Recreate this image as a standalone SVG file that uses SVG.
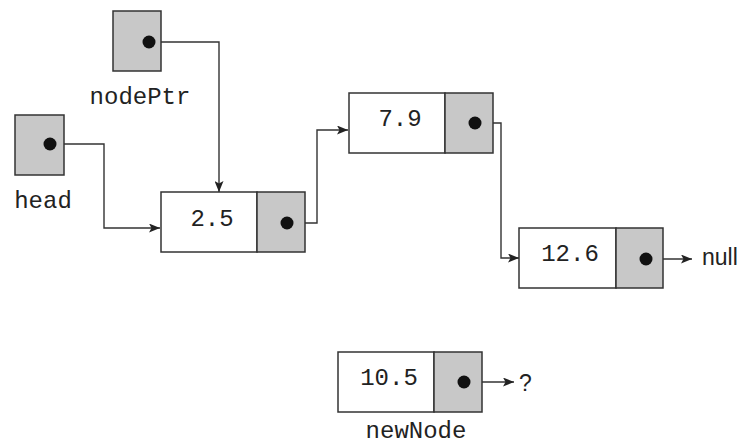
<svg xmlns="http://www.w3.org/2000/svg" width="743" height="445" viewBox="0 0 743 445">
<style>
.cell{fill:#ffffff;stroke:#333333;stroke-width:1.5}
.ptr{fill:#c8c8c8;stroke:#333333;stroke-width:1.5}
.dot{fill:#111111}
.mono{font-family:"Liberation Mono","Courier New",monospace;font-size:24px;fill:#222222;text-anchor:middle}
.sans{font-family:"Liberation Sans",Arial,sans-serif;font-size:23px;fill:#222222}
.conn{fill:none;stroke:#333333;stroke-width:1.4;marker-end:url(#ah)}
</style>
<defs>
<marker id="ah" viewBox="0 0 11 9" refX="11" refY="4.5" markerWidth="11" markerHeight="9" markerUnits="userSpaceOnUse" orient="auto">
<path d="M0,0 L11,4.5 L0,9 L2.5,4.5 Z" fill="#222222"/>
</marker>
</defs>
<g id="connectors">
<path class="conn" d="M149,42 H219 V192"/>
<path class="conn" d="M50,144 H104 V228 H160"/>
<path class="conn" d="M287,223 H317 V130 H348"/>
<path class="conn" d="M475,123 H501 V258 H519"/>
<path class="conn" d="M646,259 H692"/>
<path class="conn" d="M464,382 H514"/>
</g>
<g id="nodePtr">
<rect class="ptr" x="113" y="11" width="48" height="60"/>
<circle class="dot" cx="149" cy="42" r="6.5"/>
<text class="mono" x="140" y="104">nodePtr</text>
</g>
<g id="head">
<rect class="ptr" x="15" y="115" width="49" height="60"/>
<circle class="dot" cx="50" cy="144" r="6.5"/>
<text class="mono" x="43" y="208">head</text>
</g>
<g id="node25">
<rect class="cell" x="161" y="192" width="96" height="60"/>
<rect class="ptr" x="257" y="192" width="48" height="60"/>
<circle class="dot" cx="287" cy="223" r="6.5"/>
<text class="mono" x="212" y="226">2.5</text>
</g>
<g id="node79">
<rect class="cell" x="349" y="93" width="96" height="60"/>
<rect class="ptr" x="445" y="93" width="48" height="60"/>
<circle class="dot" cx="475" cy="123" r="6.5"/>
<text class="mono" x="400" y="126">7.9</text>
</g>
<g id="node126">
<rect class="cell" x="519" y="228" width="97" height="60"/>
<rect class="ptr" x="616" y="228" width="47" height="60"/>
<circle class="dot" cx="646" cy="259" r="6.5"/>
<text class="mono" x="570" y="261">12.6</text>
<text class="sans" x="702" y="265">null</text>
</g>
<g id="newNode">
<rect class="cell" x="338" y="352" width="96" height="60"/>
<rect class="ptr" x="434" y="352" width="48" height="60"/>
<circle class="dot" cx="464" cy="382" r="6.5"/>
<text class="mono" x="389" y="385">10.5</text>
<text class="sans" x="519" y="391">?</text>
<text class="mono" x="416" y="438">newNode</text>
</g>
</svg>
